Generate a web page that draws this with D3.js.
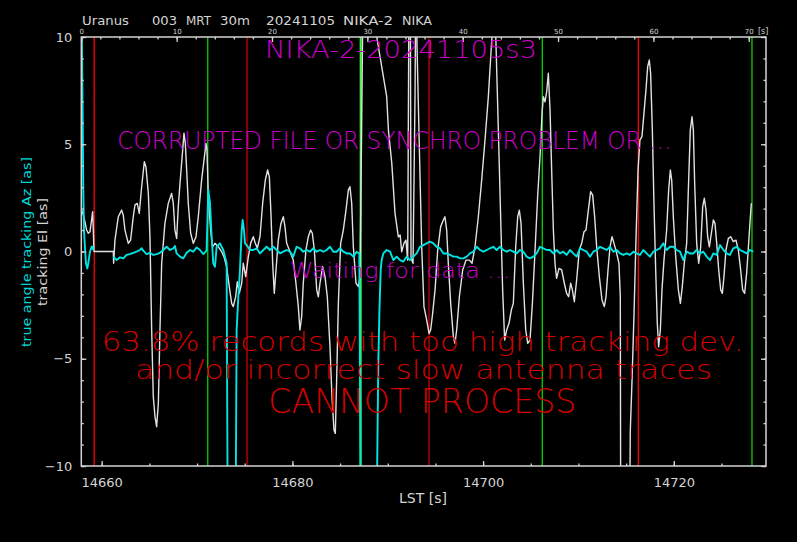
<!DOCTYPE html>
<html><head><meta charset="utf-8">
<script src="https://cdn.jsdelivr.net/npm/d3@7"></script>
<style>
html,body{margin:0;padding:0;background:#000;}
svg{display:block;background:#000;}
text{font-family:"DejaVu Sans",sans-serif;}
</style></head><body>
<svg id="c" width="797" height="542"></svg>
<script>
// ---------- data ----------
const tDomain = [14657.86, 14729.67];
const yDomain = [-10, 10];
const lstTickLabels = [14660, 14680, 14700, 14720];
const yTickLabels = [10, 5, 0, -5, -10];
const relTickLabels = [0, 10, 20, 30, 40, 50, 60, 70];
const headerTokens = ["Uranus", "003", "MRT", "30m", "20241105", "NIKA-2", "NIKA"];
const markerTimes = [14659.22, 14671.12, 14675.24, 14687.16, 14694.33, 14706.21, 14716.28, 14728.20];
const markerKinds = ["red", "green", "darkred", "lime", "darkred", "green", "red", "green"];
const titleText = "NIKA-2-20241105s3";
const msgCorrupt = "CORRUPTED FILE OR SYNCHRO PROBLEM OR ...";
const msgWaiting = "Waiting for data ...";
const msgRed = ["63.8% records with too high tracking dev.", "and/or incorrect slow antenna traces", "CANNOT PROCESS"];

// tracking El [as] (white)
const elSamples = [
[14657.90,1.93],[14658.07,1.70],[14658.24,1.39],[14658.42,1.00],[14658.59,0.85],[14658.77,0.92],[14658.94,1.47],[14659.05,1.86],[14659.12,1.00],[14659.19,0],[14661.22,0],
[14661.25,-0.55],[14661.39,0.53],[14661.74,1.62],[14662.09,1.93],[14662.26,1.70],[14662.44,1.00],[14662.79,0.38],[14663.03,0.53],[14663.31,1.62],[14663.49,2.17],[14663.73,2.24],[14663.94,1.78],
[14664.19,3.02],[14664.47,4.19],[14664.64,3.95],[14664.89,2.71],[14665.06,0.69],[14665.24,-3.66],[14665.41,-6.77],[14665.59,-7.70],[14665.76,-8.17],[14665.94,-7.08],[14666.11,-3.66],[14666.29,-0.55],
[14666.63,1.31],[14666.98,2.24],[14667.33,2.71],[14667.51,2.24],[14667.68,1.00],[14667.86,0.61],[14668.03,2.09],[14668.21,3.17],[14668.38,4.11],[14668.63,5.51],[14668.77,5.04],[14668.91,3.80],
[14669.08,2.24],[14669.33,0.85],[14669.61,0.38],[14669.89,0.69],[14670.13,1.62],[14670.48,3.33],[14670.73,4.27],[14670.94,5.04],[14671.04,4.73],[14671.18,2.56],[14671.42,1.00],[14671.63,0.22],
[14671.88,0.38],[14672.23,0.22],[14672.58,-0.01],[14672.82,-0.24],[14673.10,-0.71],[14673.38,-1.64],[14673.63,-2.42],[14673.80,-2.57],[14674.05,-2.11],[14674.22,-1.41],[14674.43,-1.95],[14674.68,-1.48],
[14674.85,-0.55],[14675.10,-1.17],[14675.38,-0.24],[14675.62,0.38],[14675.90,0.69],[14676.11,0.38],[14676.32,0.15],[14676.60,0.69],[14676.88,2.24],[14677.16,3.33],[14677.40,3.80],[14677.58,3.49],
[14677.75,1.78],[14677.93,-0.55],[14678.10,-1.95],[14678.28,-0.86],[14678.52,0.53],[14678.80,1.31],[14679.05,1.62],[14679.22,1.16],[14679.40,0.38],[14679.75,-0.01],[14680.09,-0.40],[14680.37,-1.48],
[14680.62,-2.57],[14680.79,-3.66],[14680.97,-3.04],[14681.14,-1.48],[14681.42,0.07],[14681.67,0.69],[14681.91,1.00],[14682.09,0.85],[14682.30,0.07],[14682.55,-1.79],[14682.72,-2.11],[14682.89,-1.48],
[14683.17,-0.71],[14683.42,-1.17],[14683.66,-2.11],[14683.94,-4.44],[14684.15,-6.77],[14684.36,-8.32],[14684.50,-8.48],[14684.64,-5.99],[14684.82,-2.42],[14685.06,0.38],[14685.34,1.00],[14685.62,1.93],
[14685.87,2.87],[14686.04,3.02],[14686.22,2.24],[14686.39,0.22],[14686.67,-1.48],[14686.92,-1.64],[14687.09,-1.17],[14687.26,5.66],[14687.40,12],[14688.70,12],[14688.84,10.02],[14689.89,7.22],
[14690.07,5.66],[14690.42,4.13],[14690.76,1.79],[14691.11,0.68],[14691.30,0.77],[14691.46,-0.01],[14691.70,0.38],[14691.91,0.53],[14692.09,-0.40],
[14692.19,8.77],[14692.23,12],[14692.37,12],[14692.44,-0.24],[14692.51,-0.40],[14692.65,-0.55],[14692.86,7.22],[14692.93,12],[14693.00,12],[14693.07,9.55],[14693.31,4.89],[14693.56,0.22],
[14693.80,-2.57],[14694.08,-3.19],[14694.33,-3.82],[14694.50,-3.66],[14694.71,-2.88],[14694.96,-1.79],[14695.24,0.07],[14695.55,1.16],[14695.83,1.47],[14696.00,1.62],[14696.18,1.00],[14696.35,-0.55],
[14696.60,-2.42],[14696.88,-3.97],[14697.05,-4.28],[14697.23,-3.66],[14697.51,-2.11],[14697.86,-0.86],[14698.21,-0.40],[14698.56,-0.40],[14698.84,-0.55],[14699.15,0.22],[14699.50,1.62],[14699.85,3.33],
[14700.20,5.20],[14700.55,7.22],[14700.80,9.08],[14700.93,10.02],[14701.05,12],[14701.20,12],[14701.35,9.7],[14701.60,5.66],[14701.84,1.62],[14702.05,-1.79],[14702.26,-4.13],[14702.47,-3.66],
[14702.72,-3.35],[14702.96,-2.73],[14703.17,-2.42],[14703.42,0.22],[14703.63,1.62],[14703.80,1.93],[14703.98,1.31],[14704.22,-1.48],[14704.47,-3.66],[14704.68,-4.28],[14704.92,-4.13],[14705.17,-2.42],
[14705.45,0.07],[14705.72,2.56],[14705.97,4.42],[14706.18,6.44],[14706.32,7.22],[14706.49,6.98],[14706.67,7.45],[14706.84,8.31],[14707.02,6.60],[14707.19,3.80],[14707.37,1.00],[14707.54,-0.55],
[14707.71,-1.25],[14707.96,-0.79],[14708.24,-0.86],[14708.52,-1.48],[14708.76,-1.95],[14708.97,-2.11],[14709.18,-1.48],[14709.36,-1.79],[14709.57,-2.34],[14709.81,-1.33],[14710.09,0.07],[14710.34,0.38],
[14710.58,0.92],[14710.79,1.00],[14711.04,1.93],[14711.28,2.79],[14711.49,2.63],[14711.70,1.62],[14711.91,0.22],[14712.19,-1.17],[14712.47,-2.26],[14712.71,-2.57],[14712.89,-2.11],[14713.10,-0.86],
[14713.31,0.22],[14713.52,0.69],[14713.73,0.38],[14714.01,-0.09],[14714.25,-0.55],[14714.39,-2.11],[14714.43,-12],[14715.37,-12],[14715.44,-8.32],[14715.62,-5.99],[14715.83,-2.88],[14716.04,0.69],
[14716.25,3.80],[14716.45,5.20],[14716.66,5.35],[14716.87,6.44],[14717.08,7.53],[14717.26,8.62],[14717.43,8.93],[14717.57,8.31],[14717.75,5.66],[14717.92,2.24],[14718.10,-0.86],[14718.27,-3.35],
[14718.41,-4.44],[14718.59,-3.66],[14718.76,-1.79],[14718.97,-0.40],[14719.25,1.00],[14719.46,2.87],[14719.64,3.80],[14719.78,3.33],[14719.95,1.62],[14720.20,-0.24],[14720.48,-1.79],[14720.69,-2.42],
[14720.89,-1.64],[14721.10,-0.55],[14721.35,0.38],[14721.56,3.33],[14721.73,5.66],[14721.91,6.28],[14722.05,5.66],[14722.19,3.17],[14722.40,0.38],[14722.61,-0.55],[14722.82,0.22],[14723.03,2.09],
[14723.20,2.48],[14723.38,1.93],[14723.55,0.69],[14723.73,0.22],[14723.94,0.85],[14724.15,1.47],[14724.32,1.31],[14724.50,0.38],[14724.71,-0.86],[14724.92,-1.79],[14725.09,-1.95],[14725.26,-1.17],
[14725.47,0.07],[14725.72,0.61],[14725.96,0.69],[14726.24,0.46],[14726.52,0.53],[14726.77,0.07],[14727.01,-0.86],[14727.22,-1.79],[14727.43,-1.95],[14727.64,-1.02],[14727.85,0.38],[14728.03,1.62],
[14728.13,2.25]
];

// true angle tracking Az [as] (cyan); null = no data
const azSamples = [
[14657.87,12],[14658.00,6.44],[14658.07,2.87],[14658.14,1.00],[14658.24,0.22],[14658.35,-0.55],[14658.49,-0.79],[14658.59,-0.55],[14658.77,-0.01],[14658.94,0.22],[14659.05,0.22],[14659.12,0.07],[14659.15,null],
[14661.22,-0.24],[14661.57,-0.40],[14661.92,-0.27],[14662.27,-0.32],[14662.61,-0.16],[14662.96,-0.12],[14663.31,-0.06],[14663.66,-0.01],[14664.01,0.07],[14664.19,0.15],[14664.36,0.04],[14664.71,-0.12],
[14665.06,-0.06],[14665.41,-0.16],[14665.76,-0.12],[14666.11,-0.06],[14666.46,0.07],[14666.81,0.22],[14667.16,0.07],[14667.51,0.15],[14667.68,0.26],[14667.86,-0.09],[14668.21,-0.24],[14668.56,-0.32],
[14668.91,-0.06],[14669.26,0.07],[14669.61,-0.01],[14669.96,0.19],[14670.31,0.07],[14670.66,-0.12],[14671.00,0.04],[14671.18,2.87],[14671.36,2.25],[14671.53,0.69],[14671.70,-0.55],[14671.88,-0.71],
[14672.05,0.22],[14672.40,0.38],[14672.75,0.07],[14672.93,-0.24],[14673.10,-0.55],[14673.21,-12],[14674.05,-12],[14674.15,-3.66],[14674.33,-2.11],[14674.50,-0.86],[14674.68,1.00],[14674.78,1.47],
[14674.92,1.00],[14675.03,0.38],[14675.20,0.30],[14675.55,0.07],[14675.90,0.07],[14676.25,0.15],[14676.60,-0.09],[14676.95,0.07],[14677.30,0.22],[14677.65,0.07],[14678.00,0.22],[14678.35,0.07],
[14678.70,-0.09],[14679.05,-0.01],[14679.40,0.07],[14679.75,-0.01],[14680.09,-0.24],[14680.44,0.22],[14680.79,0.15],[14681.14,-0.01],[14681.49,0.07],[14681.84,-0.01],[14682.19,0.15],[14682.54,-0.01],
[14682.90,0.07],[14683.25,-0.01],[14683.59,0.07],[14683.94,0.22],[14684.29,-0.01],[14684.64,-0.01],[14684.99,0.15],[14685.34,-0.01],[14685.69,-0.09],[14686.04,-0.09],[14686.39,-0.24],[14686.74,-0.01],
[14687.02,-0.09],[14687.16,-12],[14688.84,-12],[14689.01,-5.21],[14689.12,-2.88],[14689.26,-0.86],[14689.36,-0.40],[14689.54,-0.09],[14689.89,0.07],[14690.24,-0.01],[14690.59,-0.40],[14690.94,-0.24],
[14691.29,-0.40],[14691.64,-0.47],[14691.98,-0.24],[14692.33,-0.40],[14692.68,-0.24],[14693.03,-0.09],[14693.38,0.22],[14693.73,0.30],[14694.08,0.38],[14694.43,0.46],[14694.78,0.38],[14695.13,0.22],
[14695.48,0.15],[14695.83,-0.09],[14696.18,-0.09],[14696.53,-0.16],[14696.88,-0.24],[14697.23,-0.24],[14697.58,-0.32],[14697.93,-0.32],[14698.28,-0.24],[14698.63,-0.09],[14698.98,-0.01],[14699.33,0.22],
[14699.68,0.07],[14700.03,-0.01],[14700.38,0.07],[14700.72,0.15],[14701.07,0.22],[14701.42,0.07],[14701.77,0.22],[14702.12,0.07],[14702.47,-0.01],[14702.82,0.07],[14703.17,-0.01],[14703.52,-0.09],
[14703.87,0.07],[14704.22,-0.01],[14704.57,-0.24],[14704.92,-0.32],[14705.27,-0.24],[14705.62,-0.09],[14705.97,0.22],[14706.32,0.15],[14706.67,0.07],[14707.02,0.07],[14707.37,-0.09],[14707.71,0.07],
[14708.06,-0.09],[14708.41,-0.01],[14708.76,-0.16],[14709.11,0.07],[14709.46,-0.09],[14709.81,-0.24],[14710.16,0.15],[14710.51,0.07],[14710.86,-0.01],[14711.21,-0.24],[14711.56,-0.01],[14711.91,0.07],
[14712.26,0.22],[14712.61,0.15],[14712.96,0.07],[14713.31,0.22],[14713.66,-0.01],[14714.01,0.07],[14714.36,-0.09],[14714.71,-0.16],[14715.06,-0.09],[14715.41,-0.16],[14715.76,-0.01],[14716.11,-0.09],
[14716.45,-0.16],[14716.80,0.07],[14717.15,-0.09],[14717.50,-0.24],[14717.85,-0.01],[14718.20,0.07],[14718.55,0.15],[14718.90,0.38],[14719.25,0.07],[14719.60,0.22],[14719.95,0.22],[14720.30,0.07],
[14720.65,-0.01],[14721.00,-0.40],[14721.35,-0.01],[14721.70,-0.09],[14722.05,-0.09],[14722.40,0.07],[14722.75,-0.09],[14723.10,-0.01],[14723.45,-0.24],[14723.80,-0.40],[14724.15,-0.09],[14724.50,-0.16],
[14724.85,0.30],[14725.20,0.07],[14725.54,-0.09],[14725.89,-0.16],[14726.24,0.15],[14726.59,0.22],[14726.94,0.07],[14727.29,-0.01],[14727.64,-0.09],[14727.99,0.07],[14728.34,-0.01]
];

// ---------- drawing ----------
const W = 797, H = 542;
const L = 81.3, R = 766, T = 37, B = 466;
const axisCol = "#d4d4d4";
const markerColor = {red: "#f00000", darkred: "#c00000", green: "#00c800", lime: "#3cff3c"};
const thinFont = "Roboto, 'Open Sans', 'DejaVu Sans', sans-serif";

const svg = d3.select("#c");
svg.append("rect").attr("width", W).attr("height", H).attr("fill", "#000");

const x = d3.scaleLinear().domain(tDomain).range([L, R]);
const xr = d3.scaleLinear().domain([0, tDomain[1] - tDomain[0]]).range([L, R]);
const y = d3.scaleLinear().domain(yDomain).range([B, T]);

svg.append("clipPath").attr("id", "clip").append("rect")
  .attr("x", L).attr("y", T).attr("width", R - L).attr("height", B - T);
const plot = svg.append("g").attr("clip-path", "url(#clip)");

// vertical marker lines
plot.selectAll("line.marker").data(markerTimes).join("line")
  .attr("class", "marker")
  .attr("x1", d => x(d)).attr("x2", d => x(d))
  .attr("y1", T).attr("y2", B)
  .attr("stroke", (d, i) => markerColor[markerKinds[i]])
  .attr("stroke-width", (d, i) => markerKinds[i] === "lime" ? 2 : 1.4);

const line = d3.line().defined(d => d[1] !== null).x(d => x(d[0])).y(d => y(d[1]));

plot.append("path").datum(elSamples).attr("d", line)
  .attr("fill", "none").attr("stroke", "#e2e2e2").attr("stroke-width", 1.4).attr("stroke-linejoin", "round");
plot.append("path").datum(azSamples).attr("d", line)
  .attr("fill", "none").attr("stroke", "#00e4e4").attr("stroke-width", 1.9).attr("stroke-linejoin", "round");

// axes
function styleAxis(g) {
  g.select(".domain").remove();
  g.selectAll(".tick line").attr("stroke", axisCol).attr("stroke-width", 1.3);
  g.selectAll(".tick text").attr("fill", axisCol).attr("font-family", "DejaVu Sans, sans-serif");
}
// bottom
svg.append("g").attr("transform", `translate(0,${B})`)
  .call(d3.axisBottom(x).tickValues(d3.range(14660, 14730, 5)).tickSize(-2.5).tickFormat(""))
  .call(styleAxis);
svg.append("g").attr("transform", `translate(0,${B})`)
  .call(d3.axisBottom(x).tickValues(lstTickLabels).tickSize(-5).tickPadding(11.5).tickFormat(d3.format("d")))
  .call(styleAxis)
  .call(g => g.selectAll(".tick text").attr("font-size", 13));
// top (relative seconds)
svg.append("g").attr("transform", `translate(0,${T})`)
  .call(d3.axisTop(xr).tickValues(d3.range(0, 72, 2)).tickSize(-2.5).tickFormat(""))
  .call(styleAxis);
svg.append("g").attr("transform", `translate(0,${T})`)
  .call(d3.axisTop(xr).tickValues(relTickLabels).tickSize(-5).tickPadding(3).tickFormat(d3.format("d")))
  .call(styleAxis)
  .call(g => g.selectAll(".tick text").attr("font-size", 7));
svg.append("text").attr("x", R - 8).attr("y", 34).attr("font-size", 8).attr("fill", axisCol).text("[s]");
// left
svg.append("g").attr("transform", `translate(${L},0)`)
  .call(d3.axisLeft(y).tickValues(d3.range(-10, 11, 1)).tickSize(-2.5).tickFormat(""))
  .call(styleAxis);
svg.append("g").attr("transform", `translate(${L},0)`)
  .call(d3.axisLeft(y).tickValues(yTickLabels).tickSize(-5).tickPadding(9).tickFormat(d3.format("d")))
  .call(styleAxis)
  .call(g => g.selectAll(".tick text").attr("font-size", 13));
// right
svg.append("g").attr("transform", `translate(${R},0)`)
  .call(d3.axisRight(y).tickValues(d3.range(-10, 11, 1)).tickSize(-2.5).tickFormat(""))
  .call(styleAxis);
svg.append("g").attr("transform", `translate(${R},0)`)
  .call(d3.axisRight(y).tickValues(yTickLabels).tickSize(-5).tickFormat(""))
  .call(styleAxis);
// frame
svg.append("rect").attr("x", L).attr("y", T).attr("width", R - L).attr("height", B - T)
  .attr("fill", "none").attr("stroke", axisCol).attr("stroke-width", 1.5);

// axis titles
svg.append("text").attr("x", 423).attr("y", 503).attr("text-anchor", "middle")
  .attr("font-size", 14).attr("fill", axisCol).text("LST [s]");
svg.append("text").attr("transform", "translate(31,252) rotate(-90)").attr("text-anchor", "middle")
  .attr("font-size", 13).attr("fill", "#00d8d8").attr("textLength", 190).attr("lengthAdjust", "spacingAndGlyphs")
  .text("true angle tracking Az [as]");
svg.append("text").attr("transform", "translate(47,252) rotate(-90)").attr("text-anchor", "middle")
  .attr("font-size", 13).attr("fill", axisCol).attr("textLength", 108).attr("lengthAdjust", "spacingAndGlyphs")
  .text("tracking El [as]");

// header
const headerX = [82, 152, 186, 220, 266, 343, 402];
const headerW = [47, 25, 25, 30, 69, 50, 30];
svg.selectAll("text.hdr").data(headerTokens).join("text").attr("class", "hdr")
  .attr("x", (d, i) => headerX[i]).attr("y", 24.5).attr("font-size", 12).attr("fill", axisCol)
  .attr("textLength", (d, i) => headerW[i]).attr("lengthAdjust", "spacingAndGlyphs").text(d => d);

// messages
function msg(txt, x0, len, base, size, col) {
  svg.append("text").attr("x", x0).attr("y", base).attr("font-size", size)
    .attr("font-family", thinFont).attr("font-weight", 100).attr("fill", col)
    .attr("textLength", len).attr("lengthAdjust", "spacingAndGlyphs").text(txt);
}
const mag = "#cc00cc", red = "#d40000";
msg(titleText, 265, 272, 58.3, 24, mag);
msg(msgCorrupt, 117.3, 554, 149.3, 24, mag);
msg(msgWaiting, 290, 220, 278.3, 21, mag);
msg(msgRed[0], 101.7, 642, 351, 27, red);
msg(msgRed[1], 135, 577, 378.8, 27, red);
msg(msgRed[2], 268.3, 308, 413.3, 34, red);
</script>
</body></html>
